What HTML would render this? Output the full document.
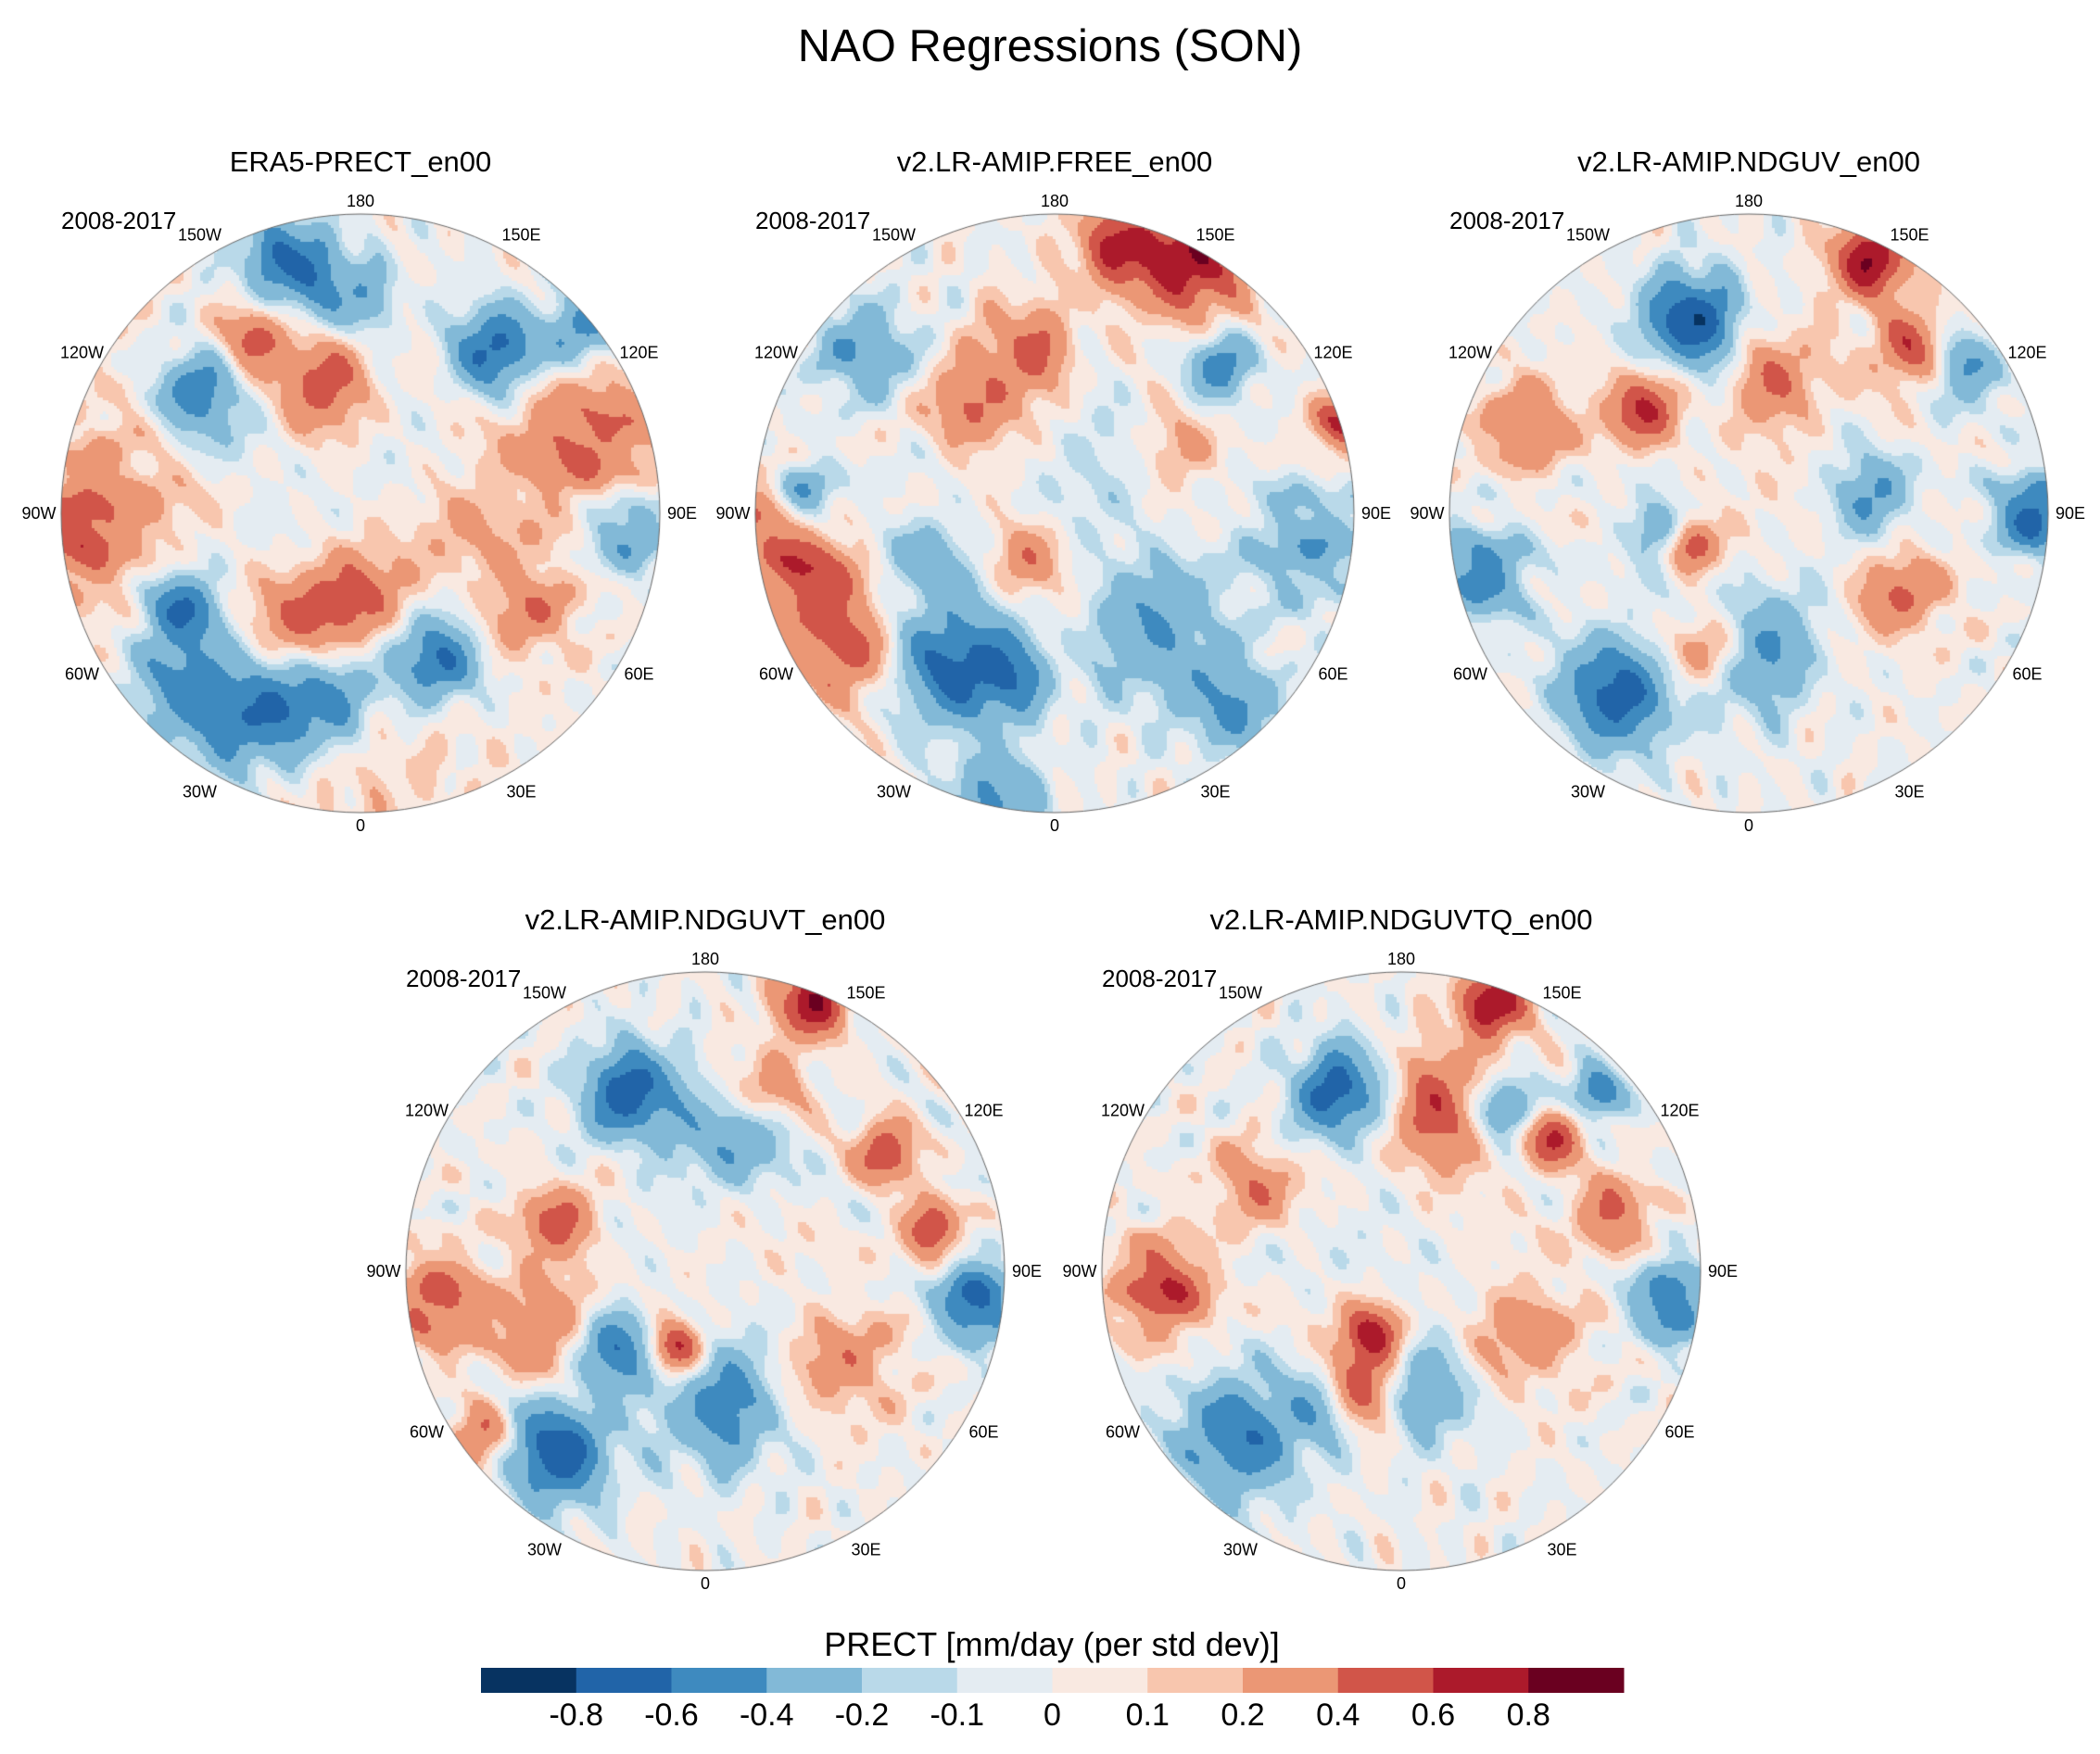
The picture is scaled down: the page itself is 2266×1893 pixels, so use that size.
<!DOCTYPE html>
<html><head><meta charset="utf-8"><style>
html,body{margin:0;padding:0;background:#fff;}
#wrap{position:relative;width:2266px;height:1893px;overflow:hidden;}
canvas,svg{position:absolute;left:0;top:0;}
text{font-family:"Liberation Sans",sans-serif;fill:#000;}
</style></head><body>
<div id="wrap">
<canvas id="cv" width="2266" height="1893"></canvas>
<svg id="sv" width="2266" height="1893"></svg>
</div>
<script>
// colormap levels and colors
const levels = [-0.8,-0.6,-0.4,-0.2,-0.1,0,0.1,0.2,0.4,0.6,0.8];
const levelLabels = ['-0.8','-0.6','-0.4','-0.2','-0.1','0','0.1','0.2','0.4','0.6','0.8'];
const colors = ['#073361','#2164a8','#3e8abf','#82b9d7','#b9d9e9','#e4ecf2','#f9e9e1','#f8c6ae','#eb9775','#d15549','#ac1a2b','#6a0020'];
const panelTitles = ['ERA5-PRECT_en00','v2.LR-AMIP.FREE_en00','v2.LR-AMIP.NDGUV_en00','v2.LR-AMIP.NDGUVT_en00','v2.LR-AMIP.NDGUVTQ_en00'];
const lonLabels = ['180','150E','120E','90E','60E','30E','0','30W','60W','90W','120W','150W'];
// blobs: [x, y (normalized to radius), amplitude, sigma]
const blobs1 = [[-0.4,0.68,-0.55,0.14],[-0.15,0.62,-0.55,0.12],[-0.62,0.55,-0.4,0.12],[0.15,0.45,-0.45,0.13],[0.3,0.5,-0.4,0.08],[0,0.3,0.5,0.13],[-0.2,0.35,0.35,0.12],[-0.6,0.3,-0.65,0.1],[-0.8,0,0.25,0.3],[-0.95,0.05,0.35,0.1],[-0.15,-0.45,0.5,0.13],[-0.55,-0.4,-0.6,0.1],[-0.25,-0.85,-0.65,0.1],[-0.05,-0.72,-0.45,0.1],[0.45,-0.55,-0.7,0.1],[0.72,-0.6,-0.5,0.08],[0.75,-0.25,0.45,0.18],[0.88,0.05,-0.45,0.1],[0.55,0.3,0.35,0.12],[0,0.85,0.12,0.3],[-0.38,-0.6,0.45,0.07],[-0.35,-0.15,-0.15,0.2],[0.35,0.0,0.2,0.12]];
const blobs2 = [[-0.82,0.2,0.55,0.12],[-0.7,0.45,0.5,0.12],[-0.95,0.0,0.45,0.1],[-0.35,0.5,-0.65,0.14],[-0.15,0.55,-0.4,0.1],[-0.85,-0.05,-0.6,0.08],[-0.2,0.95,-0.45,0.1],[0.45,-0.85,0.75,0.13],[0.2,-0.9,0.55,0.1],[-0.1,-0.55,0.45,0.11],[-0.28,-0.35,0.45,0.1],[0.55,-0.5,-0.6,0.07],[0.95,-0.3,0.6,0.07],[0.85,0.1,-0.35,0.14],[0.35,0.4,-0.4,0.16],[0.6,0.65,-0.45,0.1],[-0.1,0.15,0.4,0.09],[-0.65,-0.55,-0.4,0.11],[0.4,-0.2,0.3,0.09],[-0.45,0.15,-0.25,0.12],[0.1,-0.05,-0.15,0.2]];
const blobs3 = [[-0.2,-0.65,-0.8,0.11],[-0.35,-0.35,0.6,0.09],[0.4,-0.85,0.8,0.09],[0.55,-0.55,0.6,0.09],[0.95,0.0,-0.7,0.09],[0.7,-0.5,-0.5,0.09],[-0.45,0.6,-0.7,0.13],[-0.9,0.2,-0.5,0.11],[-0.15,0.45,0.6,0.09],[-0.2,0.1,0.6,0.06],[-0.3,0.05,-0.5,0.07],[0.0,0.45,-0.5,0.14],[0.4,-0.05,-0.5,0.09],[0.5,0.25,0.4,0.11],[-0.75,-0.3,0.4,0.11],[0.1,-0.45,0.4,0.11]];
const blobs4 = [[-0.25,-0.6,-0.75,0.11],[0.35,-0.9,0.8,0.08],[0.1,-0.45,-0.5,0.11],[0.2,-0.6,0.4,0.09],[0.9,0.1,-0.7,0.09],[0.75,-0.15,0.7,0.06],[0.6,-0.4,0.6,0.07],[-0.5,0.6,-0.75,0.12],[-0.55,0.2,0.4,0.11],[-0.9,0.1,0.5,0.11],[-0.3,0.25,-0.6,0.09],[-0.1,0.25,0.7,0.06],[0.05,0.45,-0.5,0.14],[-0.5,-0.15,0.5,0.09],[0.45,0.3,0.3,0.14],[-0.75,0.55,0.5,0.07]];
const blobs5 = [[-0.2,-0.6,-0.75,0.11],[0.3,-0.9,0.8,0.08],[0.1,-0.55,0.5,0.14],[0.35,-0.55,-0.6,0.07],[0.5,-0.45,0.6,0.07],[0.65,-0.6,-0.6,0.06],[0.9,0.1,-0.6,0.09],[0.7,-0.2,0.5,0.08],[-0.8,0.05,0.6,0.11],[-0.1,0.2,0.7,0.07],[-0.15,0.4,0.6,0.09],[-0.55,0.55,-0.6,0.14],[-0.25,0.45,-0.4,0.09],[0.1,0.4,-0.4,0.11],[0.4,0.2,0.3,0.14],[-0.5,-0.3,0.4,0.09]];
const allBlobs = [blobs1,blobs2,blobs3,blobs4,blobs5];
const centers = [[389,554],[1138,554],[1887,554],[761,1372],[1512,1372]];
const R = 323;

function colorFor(v){let i=0;while(i<levels.length && v>=levels[i]) i++;return colors[i];}
function field(b,x,y,k){let v=0;for(const q of b){const dx=x-q[0],dy=y-q[1];v+=q[2]*Math.exp(-(dx*dx+dy*dy)/(2*q[3]*q[3]));}
  v+=0.07*Math.sin(23*x+3*k)*Math.cos(19*y-2*k)+0.05*Math.sin(41*x*y+k)+0.04*Math.cos(37*x-29*y+k);return v;}

const cv=document.getElementById('cv');const ctx=cv.getContext('2d');
ctx.fillStyle='#fff';ctx.fillRect(0,0,2266,1893);
const step=3;
centers.forEach((c,k)=>{
  ctx.save();ctx.beginPath();ctx.arc(c[0],c[1],R,0,2*Math.PI);ctx.clip();
  for(let py=-R;py<R;py+=step){for(let px=-R;px<R;px+=step){
    if(px*px+py*py>(R+4)*(R+4))continue;
    ctx.fillStyle=colorFor(field(allBlobs[k],px/R,py/R,k));ctx.fillRect(c[0]+px,c[1]+py,step,step);}}
  ctx.restore();
  ctx.beginPath();ctx.arc(c[0],c[1],R,0,2*Math.PI);ctx.strokeStyle='#666';ctx.lineWidth=1;ctx.stroke();
});

const NS='http://www.w3.org/2000/svg';const sv=document.getElementById('sv');
function txt(x,y,s,size,name,anchor){const t=document.createElementNS(NS,'text');t.setAttribute('x',x);t.setAttribute('y',y);t.setAttribute('font-size',size);t.setAttribute('text-anchor',anchor||'middle');t.textContent=s;
  
  
  sv.appendChild(t);return t;}
txt(1133,66,'NAO Regressions (SON)',49,'main-title');
centers.forEach((c,k)=>{
  txt(c[0],c[1]-369,panelTitles[k],31,'panel-title');
  txt(c[0]-323,c[1]-307,'2008-2017',26,'period-label','start');
  lonLabels.forEach((l,i)=>{const a=i*30*Math.PI/180;const rr=(i%6===0)?337:347;
    txt(c[0]+rr*Math.sin(a),c[1]-rr*Math.cos(a)+6,l,18,'longitude-label');});
});
// colorbar
const cbL=519,cbR=1752,cbT=1800,cbB=1827;const w=(cbR-cbL)/colors.length;
colors.forEach((col,i)=>{const r=document.createElementNS(NS,'rect');r.setAttribute('x',cbL+i*w);r.setAttribute('y',cbT);r.setAttribute('width',w+0.5);r.setAttribute('height',cbB-cbT);r.setAttribute('fill',col);
  
  
  sv.appendChild(r);});
levelLabels.forEach((l,i)=>{txt(cbL+(i+1)*w,1862,l,34,'colorbar-tick-label');});
txt(1135,1787,'PRECT [mm/day (per std dev)]',36,'colorbar-title');
</script>
</body></html>
